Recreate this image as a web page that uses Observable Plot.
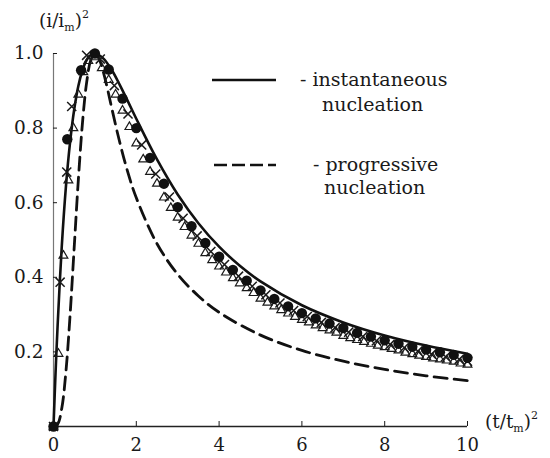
<!DOCTYPE html>
<html><head><meta charset="utf-8">
<script src="https://cdn.jsdelivr.net/npm/d3@7"></script>
<script src="https://cdn.jsdelivr.net/npm/@observablehq/plot@0.6"></script>
<style>
html,body{margin:0;padding:0;background:#fff;}
#chart{width:550px;height:458px;}
</style></head><body><div id="chart"></div>
<script>
// Instantaneous nucleation (solid line)
const instX = [0, 0.05, 0.1, 0.2, 0.3, 0.4, 0.5, 0.6, 0.7, 0.8, 0.9, 1.0, 1.2, 1.4, 1.6, 1.8, 2.0, 2.5, 3, 3.5, 4, 4.5, 5, 6, 7, 8, 9, 10];
const instY = [0, 0.145, 0.272, 0.483, 0.643, 0.762, 0.850, 0.913, 0.955, 0.982, 0.996, 1.0, 0.987, 0.957, 0.916, 0.871, 0.825, 0.716, 0.622, 0.545, 0.482, 0.431, 0.389, 0.325, 0.279, 0.244, 0.217, 0.195];
// Progressive nucleation (dashed line)
const progX = [0, 0.1, 0.2, 0.3, 0.4, 0.5, 0.6, 0.7, 0.8, 0.9, 1.0, 1.1, 1.2, 1.3, 1.4, 1.6, 1.8, 2.0, 2.5, 3, 3.5, 4, 5, 6, 7, 8, 9, 10];
const progY = [0, 0.0065, 0.049, 0.147, 0.298, 0.480, 0.661, 0.814, 0.922, 0.982, 1.0, 0.986, 0.952, 0.907, 0.857, 0.762, 0.680, 0.613, 0.490, 0.408, 0.350, 0.306, 0.245, 0.204, 0.175, 0.153, 0.136, 0.123];
// Experimental points: filled circles
const circX = [0, 0.333, 0.667, 1.0, 1.333, 1.667, 2.0, 2.333, 2.667, 3.0, 3.333, 3.667, 4.0, 4.333, 4.667, 5.0, 5.333, 5.667, 6.0, 6.333, 6.667, 7.0, 7.333, 7.667, 8.0, 8.333, 8.667, 9.0, 9.333, 9.667, 10];
const circY = [0, 0.77, 0.955, 1.0, 0.957, 0.879, 0.80, 0.72, 0.651, 0.588, 0.537, 0.492, 0.455, 0.420, 0.391, 0.365, 0.342, 0.322, 0.304, 0.290, 0.276, 0.264, 0.251, 0.241, 0.231, 0.222, 0.214, 0.206, 0.199, 0.192, 0.184];
// Experimental points: crosses
const crossX = [0, 0.16, 0.32, 0.44, 0.8, 1.13, 1.47, 1.8, 2.13, 2.47, 2.8, 3.13, 3.47, 3.8, 4.13, 4.47, 4.8, 5.13, 5.47, 5.8, 6.13, 6.47, 6.8, 7.13, 7.47, 7.8, 8.13, 8.47, 8.8, 9.13, 9.47, 9.8, 10];
const crossY = [0, 0.387, 0.682, 0.858, 0.995, 0.985, 0.914, 0.838, 0.755, 0.677, 0.615, 0.558, 0.511, 0.469, 0.434, 0.403, 0.376, 0.353, 0.331, 0.311, 0.295, 0.279, 0.265, 0.253, 0.241, 0.230, 0.220, 0.211, 0.202, 0.194, 0.187, 0.180, 0.175];
// Experimental points: open triangles
const triX = [0, 0.12, 0.24, 0.36, 0.48, 0.6, 0.72, 0.84, 1.0, 1.167, 1.333, 1.5, 1.667, 1.833, 2.0, 2.167, 2.333, 2.5, 2.667, 2.833, 3.0, 3.167, 3.333, 3.5, 3.667, 3.833, 4.0, 4.167, 4.333, 4.5, 4.667, 4.833, 5.0, 5.167, 5.333, 5.5, 5.667, 5.833, 6.0, 6.167, 6.333, 6.5, 6.667, 6.833, 7.0, 7.167, 7.333, 7.5, 7.667, 7.833, 8.0, 8.167, 8.333, 8.5, 8.667, 8.833, 9.0, 9.167, 9.333, 9.5, 9.667, 9.833, 10];
const triY = [0, 0.195, 0.458, 0.66, 0.80, 0.89, 0.95, 0.98, 0.99, 0.961, 0.929, 0.890, 0.847, 0.803, 0.759, 0.716, 0.683, 0.651, 0.614, 0.586, 0.560, 0.535, 0.512, 0.490, 0.465, 0.446, 0.429, 0.413, 0.398, 0.384, 0.371, 0.358, 0.343, 0.332, 0.322, 0.312, 0.303, 0.294, 0.286, 0.279, 0.271, 0.264, 0.258, 0.252, 0.243, 0.237, 0.232, 0.227, 0.222, 0.217, 0.213, 0.208, 0.204, 0.198, 0.194, 0.190, 0.187, 0.183, 0.180, 0.177, 0.174, 0.169, 0.166];

const xTicks = [0, 2, 4, 6, 8, 10];
const xTickLabels = ["0", "2", "4", "6", "8", "10"];
const yTicks = [0.2, 0.4, 0.6, 0.8, 1.0];
const yTickLabels = ["0.2", "0.4", "0.6", "0.8", "1.0"];
const legendTexts = [["- instantaneous", "nucleation"], ["- progressive", "nucleation"]];

const rows = (xs, ys) => xs.map((x, i) => ({x, y: ys[i]}));
const FONT = "DejaVu Serif";

const plot = Plot.plot({
  width: 550, height: 458,
  marginTop: 53, marginLeft: 53, marginRight: 83, marginBottom: 32,
  style: {fontFamily: FONT, fontSize: "18px", background: "#fff", color: "#1a1a1a"},
  x: {domain: [0, 10]},
  y: {domain: [0, 1]},
  marks: [
    Plot.ruleX([0], {stroke: "#777", strokeWidth: 1.2}),
    Plot.ruleY([0], {stroke: "#222", strokeWidth: 1.3}),
    Plot.axisX({ticks: xTicks, tickFormat: d => xTickLabels[xTicks.indexOf(d)], tickSize: -5, tickPadding: 17, label: null, fontSize: 18, fontFamily: FONT}),
    Plot.axisY({ticks: yTicks, tickFormat: d => yTickLabels[yTicks.indexOf(d)], tickSize: -4, tickPadding: 14, label: null, fontSize: 18.5, fontFamily: FONT}),
    Plot.line(rows(progX, progY), {x: "x", y: "y", stroke: "#111", strokeWidth: 2.8, strokeDasharray: "13,7", curve: "catmull-rom"}),
    Plot.line(rows(instX, instY), {x: "x", y: "y", stroke: "#111", strokeWidth: 2.6, curve: "catmull-rom"}),
    Plot.dot(rows(triX, triY), {x: "x", y: "y", symbol: "triangle2", r: 4.2, stroke: "#1a1a1a", strokeWidth: 1.2}),
    Plot.dot(rows(crossX, crossY), {x: "x", y: "y", symbol: "times", r: 4.2, stroke: "#1a1a1a", strokeWidth: 1.5}),
    Plot.dot(rows(circX, circY), {x: "x", y: "y", symbol: "circle", r: 5.2, fill: "#111", stroke: "none"})
  ]
});
document.getElementById("chart").appendChild(plot);

// Axis titles and legend
const svg = d3.select(plot);
const g = svg.append("g").attr("font-family", FONT).attr("fill", "#1a1a1a").attr("text-anchor", "start");
function powerLabel(x, y, base, sub) {
  const t = g.append("text").attr("x", x).attr("y", y).attr("font-size", 18.5).attr("text-anchor", "start");
  t.append("tspan").text(base);
  t.append("tspan").attr("font-size", 11).attr("dy", 4).text(sub);
  t.append("tspan").attr("dy", -4).text(")");
  t.append("tspan").attr("font-size", 11).attr("dy", -9).text("2");
}
powerLabel(39, 27, "(i/i", "m");
powerLabel(485, 428, "(t/t", "m");

g.append("line").attr("x1", 212).attr("x2", 276).attr("y1", 80).attr("y2", 80)
  .attr("stroke", "#111").attr("stroke-width", 2.6);
g.append("line").attr("x1", 214).attr("x2", 278).attr("y1", 165).attr("y2", 165)
  .attr("stroke", "#111").attr("stroke-width", 2.6).attr("stroke-dasharray", "13,5,13,5,13,5,8,4,2,10");
const lt = [[300, 86, 322, 111], [313, 171, 324, 194]];
legendTexts.forEach((pair, i) => {
  g.append("text").attr("x", lt[i][0]).attr("y", lt[i][1]).attr("font-size", 19).attr("text-anchor", "start").text(pair[0]);
  g.append("text").attr("x", lt[i][2]).attr("y", lt[i][3]).attr("font-size", 19).attr("text-anchor", "start").text(pair[1]);
});
</script>
</body></html>
